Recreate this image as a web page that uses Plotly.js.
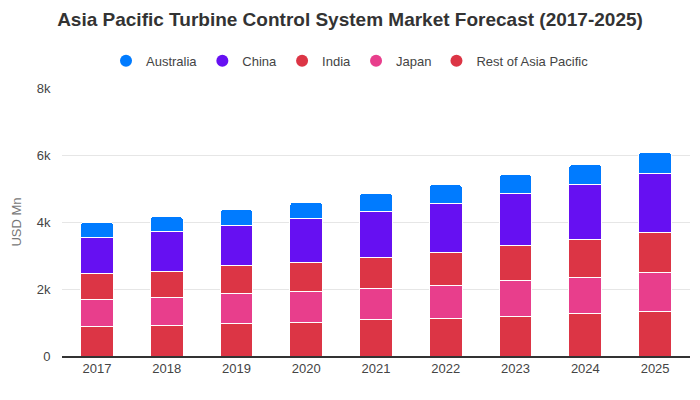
<!DOCTYPE html>
<html>
<head>
<meta charset="utf-8">
<script src="https://cdn.plot.ly/plotly-3.0.1.min.js"></script>
<style>html,body{margin:0;padding:0;background:#fff;}#chart{width:700px;height:400px;}</style>
</head>
<body>
<div id="chart"></div>
<script>
const years = ['2017','2018','2019','2020','2021','2022','2023','2024','2025'];
const restOfAsiaPacific = [866, 925, 964, 1015, 1075, 1134, 1194, 1254, 1343];
const japan = [806, 836, 887, 925, 955, 985, 1045, 1104, 1164];
const india = [776, 776, 836, 866, 925, 985, 1045, 1105, 1165];
const china = [1104, 1194, 1223, 1313, 1373, 1463, 1552, 1671, 1761];
const australia = [427, 427, 457, 457, 517, 546, 576, 576, 636];
const seriesNames = ['Australia', 'China', 'India', 'Japan', 'Rest of Asia Pacific'];
const colors = {'Australia':'#007bff','China':'#6610f2','India':'#dc3545','Japan':'#e83e8c','Rest of Asia Pacific':'#dc3545'};
const stackOrder = [
  ['Rest of Asia Pacific', restOfAsiaPacific],
  ['Japan', japan],
  ['India', india],
  ['China', china],
  ['Australia', australia]
];
const traces = stackOrder.map(([name, vals]) => ({
  type: 'bar', name: name, x: years, y: vals, showlegend: false,
  marker: {color: colors[name], line: {color: '#ffffff', width: 1}},
  hovertemplate: name + ': %{y}<extra></extra>'
}));
seriesNames.forEach(name => traces.push({
  type: 'scatter', mode: 'markers', name: name, x: [null], y: [null],
  marker: {color: colors[name], size: 12, symbol: 'circle'}, showlegend: true
}));
const layout = {
  width: 700, height: 400,
  margin: {l: 62, r: 10, t: 88, b: 44},
  font: {family: 'Liberation Sans, Arial, sans-serif', color: '#444', size: 13},
  title: {text: '<b>Asia Pacific Turbine Control System Market Forecast (2017-2025)</b>',
    x: 0.5, xref: 'container', xanchor: 'center', y: 0.968, yref: 'container',
    font: {size: 19, color: '#333'}},
  barmode: 'stack', bargap: 0.53, barcornerradius: 3,
  showlegend: true,
  legend: {orientation: 'h', x: 0.5, xref: 'container', xanchor: 'center',
    y: 0.848, yref: 'container', yanchor: 'middle', font: {size: 13, color: '#444'},
    traceorder: 'normal', itemwidth: 30},
  xaxis: {type: 'category', showgrid: false, showline: true, linecolor: '#333', linewidth: 1.5,
    ticks: '', tickfont: {size: 13, color: '#444'}},
  yaxis: {range: [0, 8000], dtick: 2000, tickformat: '~s', gridcolor: '#e6e6e6', zeroline: false,
    ticks: 'outside', ticklen: 8, tickcolor: 'rgba(0,0,0,0)',
    tickfont: {size: 13, color: '#444'},
    title: {text: 'USD Mn', font: {size: 13, color: '#777'}, standoff: 12}},
  plot_bgcolor: '#fff', paper_bgcolor: '#fff'
};
Plotly.newPlot('chart', traces, layout, {displayModeBar: false, staticPlot: true});
</script>
</body>
</html>
